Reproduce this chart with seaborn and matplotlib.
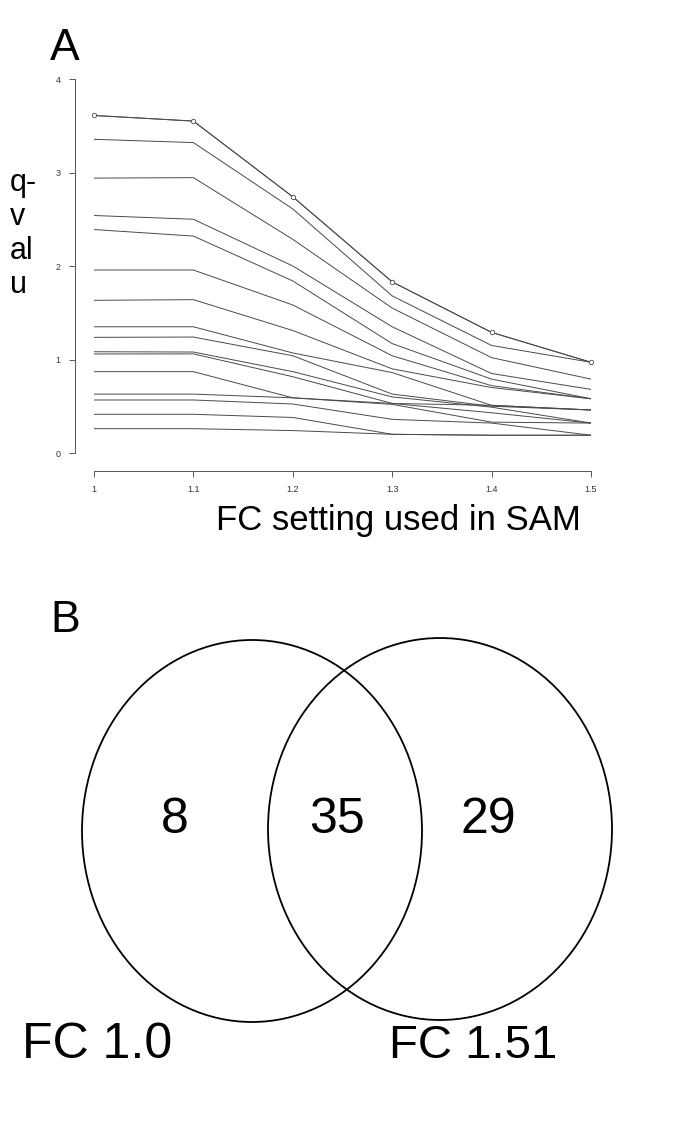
import numpy as np
import pandas as pd
import matplotlib
matplotlib.use('Agg')
import matplotlib.pyplot as plt
import seaborn as sns
from matplotlib.patches import Ellipse

# --- DATA ---
fc_settings = [1.0, 1.1, 1.2, 1.3, 1.4, 1.5]

# one list per gene/threshold curve
q_curves = [
    [3.61, 3.55, 2.74, 1.83, 1.29, 0.97],
    [3.355, 3.32, 2.61, 1.68, 1.15, 0.97],
    [2.94, 2.945, 2.285, 1.55, 1.02, 0.79],
    [2.54, 2.50, 2.00, 1.35, 0.85, 0.68],
    [2.39, 2.32, 1.84, 1.17, 0.79, 0.58],
    [1.957, 1.957, 1.583, 1.04, 0.72, 0.58],
    [1.633, 1.64, 1.31, 0.90, 0.70, 0.58],
    [1.35, 1.35, 1.07, 0.86, 0.51, 0.46],
    [1.237, 1.24, 1.04, 0.63, 0.50, 0.46],
    [1.083, 1.08, 0.87, 0.60, 0.49, 0.32],
    [1.059, 1.06, 0.816, 0.53, 0.43, 0.32],
    [0.87, 0.87, 0.59, 0.52, 0.33, 0.32],
    [0.63, 0.63, 0.59, 0.53, 0.51, 0.46],
    [0.567, 0.567, 0.524, 0.36, 0.32, 0.19],
    [0.414, 0.414, 0.38, 0.20, 0.19, 0.19],
    [0.26, 0.26, 0.24, 0.20, 0.19, 0.19],
]
x_ticks = [1, 1.1, 1.2, 1.3, 1.4, 1.5]
x_tick_labels = ['1', '1.1', '1.2', '1.3', '1.4', '1.5']
y_ticks = [0, 1, 2, 3, 4]

venn_counts = [8, 35, 29]          # only FC 1.0, both, only FC 1.51
venn_labels = ['FC 1.0', 'FC 1.51']

rows = []
for i, curve in enumerate(q_curves):
    for fc, q in zip(fc_settings, curve):
        rows.append({'curve': i, 'fc': fc, 'q': q})
df = pd.DataFrame(rows)

# --- FIGURE ---
sns.set_style('white')
plt.rcParams['font.family'] = ['Liberation Sans', 'DejaVu Sans']
plt.rcParams['text.color'] = 'black'

W, H = 685, 1138
fig = plt.figure(figsize=(W / 100, H / 100), dpi=100)

# Panel A: axes placed so data range maps to the reference pixels
ax = fig.add_axes([94 / W, 1 - 453 / H, (591 - 94) / W, (453 - 79) / H])
line_col = '#4a4a4a'
sns.lineplot(data=df, x='fc', y='q', units='curve', estimator=None,
             color=line_col, linewidth=0.7, ax=ax)
sns.lineplot(data=df[df['curve'] == 0], x='fc', y='q', color=line_col,
             linewidth=0.7, marker='o', markersize=3.2,
             markerfacecolor='white', markeredgecolor=line_col,
             markeredgewidth=0.6, clip_on=False, ax=ax)
ax.set_xlim(1, 1.5)
ax.set_ylim(0, 4)
ax.set_xticks(x_ticks)
ax.set_xticklabels(x_tick_labels)
ax.set_yticks(y_ticks)
ax.set_yticklabels([str(t) for t in y_ticks], rotation=90, va='center')
ax.tick_params(axis='both', labelsize=6.5, length=4, width=0.7,
               color='#555555', labelcolor='#333333', direction='out',
               left=True, bottom=True, pad=6)
sns.despine(ax=ax, offset={'left': 14, 'bottom': 13})
for s in ['left', 'bottom']:
    ax.spines[s].set_color('#555555')
    ax.spines[s].set_linewidth(0.7)
ax.set_xlabel('')
ax.set_ylabel('')
ax.set_facecolor('none')

fig.text(398 / W, 1 - 530 / H, 'FC setting used in SAM', fontsize=25,
         ha='center', va='baseline')
fig.text(10 / W, 1 - 168 / H, 'q-\nv\nal\nu', fontsize=22, ha='left',
         va='top', linespacing=1.17)
fig.text(50 / W, 1 - 60 / H, 'A', fontsize=32, ha='left', va='baseline')
fig.text(50 / W, 1 - 632 / H, 'B', fontsize=32, ha='left', va='baseline')

# Panel B: Venn diagram in pixel coordinates
ax2 = fig.add_axes([0, 0, 1, 1 - 580 / H])
ax2.set_xlim(0, W)
ax2.set_ylim(H, 580)
ax2.axis('off')
ax2.add_patch(Ellipse((252, 831), 340, 382, fill=False, lw=1.3, ec='black'))
ax2.add_patch(Ellipse((440, 829), 344, 382, fill=False, lw=1.3, ec='black'))
for cx, n in zip([175, 337, 488], venn_counts):
    ax2.text(cx, 820, str(n), fontsize=36, ha='center', va='center')
ax2.text(22, 1058, venn_labels[0], fontsize=36, ha='left', va='baseline')
ax2.text(389, 1058, venn_labels[1], fontsize=34, ha='left', va='baseline')

fig.savefig('out.png', dpi=100)
